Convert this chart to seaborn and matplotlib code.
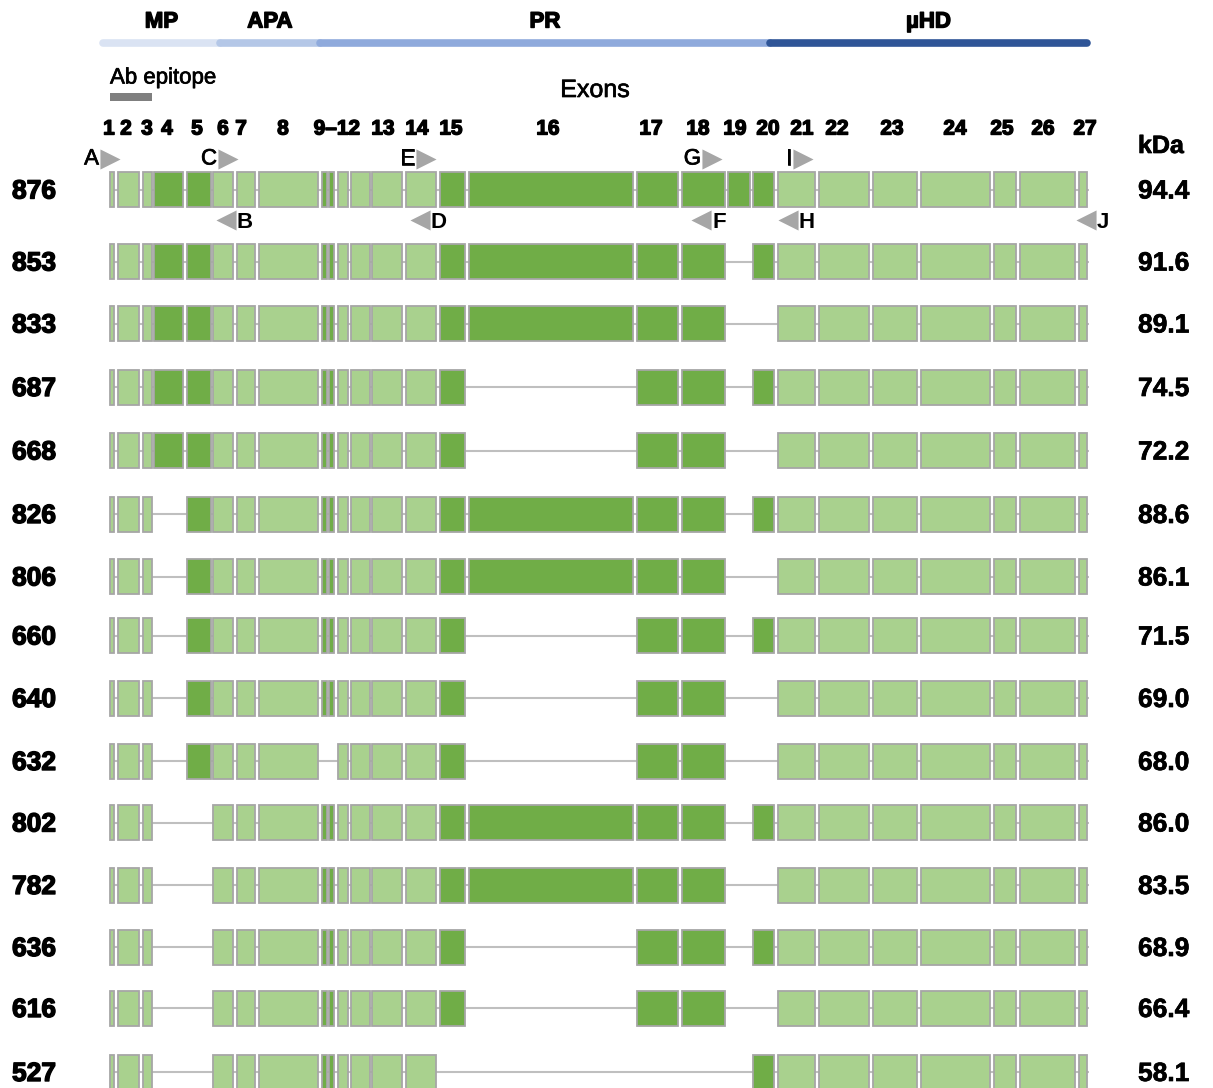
import matplotlib
matplotlib.use("Agg")
import matplotlib.pyplot as plt
import matplotlib.patheffects as pe
import seaborn as sns
import pandas as pd

# ---------------- data ----------------
exon_ids = [str(i) for i in range(1, 28)]
exon_start = [110, 118, 143, 154, 187, 213, 237, 259, 322, 329, 338, 351, 372, 406,
              440, 469, 637, 682, 728, 753, 778, 819, 873, 921, 994, 1020, 1079]
exon_end = [114, 139, 152, 183, 211, 233, 255, 318, 327, 334, 348, 370, 402, 436,
            465, 633, 678, 725, 750, 774, 815, 869, 917, 990, 1016, 1075, 1087]
dark_exons = [4, 5, 9, 10, 15, 16, 17, 18, 19, 20]

isoform_aa = [876, 853, 833, 687, 668, 826, 806, 660, 640, 632, 802, 782, 636, 616, 527]
isoform_kda = ["94.4", "91.6", "89.1", "74.5", "72.2", "88.6", "86.1", "71.5",
               "69.0", "68.0", "86.0", "83.5", "68.9", "66.4", "58.1"]
skipped_exons = [[], [19], [19, 20], [16, 19], [16, 19, 20], [4, 19], [4, 19, 20],
                 [4, 16, 19], [4, 16, 19, 20], [4, 9, 10, 16, 19, 20], [4, 5, 19],
                 [4, 5, 19, 20], [4, 5, 16, 19], [4, 5, 16, 19, 20],
                 [4, 5, 15, 16, 17, 18, 19]]

domains = ["MP", "APA", "PR", "\u00b5HD"]
domain_start = [103, 220, 320, 770]
domain_end = [220, 320, 770, 1087]

exon_label_text = ["1", "2", "3", "4", "5", "6", "7", "8", "9\u201312", "13", "14", "15",
                   "16", "17", "18", "19", "20", "21", "22", "23", "24", "25", "26", "27"]

fwd_primers = ["A", "C", "E", "G", "I"]
fwd_primer_x = [110, 228, 426, 712, 803]
rev_primers = ["B", "D", "F", "H", "J"]
rev_primer_x = [226, 420, 701, 788, 1086]

epitope_start, epitope_end = 110, 152

# ---------------- layout ----------------
row_y = [189.5, 261.5, 323.5, 387, 450.5, 514, 576.5, 635.5, 698, 761,
         822.5, 885, 947, 1008, 1072]
exon_label_x = [109, 126, 147, 167, 197, 223, 241, 283, 337, 383, 417, 451,
                548, 651, 698, 735, 768, 802, 837, 892, 955, 1002, 1043, 1085]
box_h = 35
light_green = "#A9D18E"
dark_green = "#70AD47"
edge_gray = "#A6A6A6"
intron_gray = "#BFBFBF"
domain_colors = ["#DAE3F3", "#B4C7E7", "#8FAADC", "#2F5597"]

sns.set_theme(style="white")
plt.rcParams["font.family"] = ["Liberation Sans", "DejaVu Sans"]
plt.rcParams["text.color"] = "black"

fat = [pe.withStroke(linewidth=1.0, foreground="black")]
semi = [pe.withStroke(linewidth=0.5, foreground="black")]

# build exon table
recs = []
for aa, y, skip in zip(isoform_aa, row_y, skipped_exons):
    for k, (s, e) in enumerate(zip(exon_start, exon_end), start=1):
        if k in skip:
            continue
        recs.append(dict(iso=aa, y=y, exon=k, left=s, width=e - s,
                         color=dark_green if k in dark_exons else light_green))
df = pd.DataFrame(recs)

fig = plt.figure(figsize=(12.13, 10.88), dpi=100)
ax = fig.add_axes([0, 0, 1, 1])
ax.set_xlim(0, 1213)
ax.set_ylim(1088, 0)
ax.axis("off")

# introns
ax.hlines(row_y, exon_start[0], exon_end[-1] + 2, color=intron_gray, lw=1.5, zorder=1)
# exons
ax.barh(df["y"], df["width"], left=df["left"], height=box_h, color=df["color"],
        edgecolor=edge_gray, linewidth=1.3, zorder=2)

# domain bar
for name, s, e, c in zip(domains, domain_start, domain_end, domain_colors):
    ax.plot([s, e], [43, 43], color=c, lw=5.5, solid_capstyle="round", zorder=3)
    ax.text((s + e) / 2, 22, name, ha="center", va="center", fontsize=16,
            fontweight="bold", path_effects=fat)

# antibody epitope
ax.text(epitope_start, 78, "Ab epitope", ha="left", va="center", fontsize=16,
        path_effects=semi)
ax.barh([97], [epitope_end - epitope_start], left=epitope_start, height=8,
        color="#7F7F7F", linewidth=0)

ax.text(595, 90, "Exons", ha="center", va="center", fontsize=18, path_effects=semi)

for t, x in zip(exon_label_text, exon_label_x):
    ax.text(x, 129, t, ha="center", va="center", fontsize=15, fontweight="bold",
            path_effects=fat)

# primers
ax.scatter(fwd_primer_x, [159] * len(fwd_primer_x), marker=">", s=210,
           color="#A6A6A6", linewidths=0, zorder=4)
for t, x in zip(fwd_primers, fwd_primer_x):
    ax.text(x - 11, 159, t, ha="right", va="center", fontsize=16, path_effects=semi)
ax.scatter(rev_primer_x, [220] * len(rev_primer_x), marker="<", s=210,
           color="#A6A6A6", linewidths=0, zorder=4)
for t, x in zip(rev_primers, rev_primer_x):
    ax.text(x + 11, 222, t, ha="left", va="center", fontsize=16, fontweight="bold")

# row labels
for aa, kda, y in zip(isoform_aa, isoform_kda, row_y):
    ax.text(12, y + 2, str(aa), ha="left", va="center", fontsize=19,
            fontweight="bold", path_effects=fat)
    ax.text(1138, y + 2, kda, ha="left", va="center", fontsize=19,
            fontweight="bold", path_effects=semi)
ax.text(1138, 146, "kDa", ha="left", va="center", fontsize=18, fontweight="bold",
        path_effects=semi)

fig.savefig("out.png", dpi=100)
